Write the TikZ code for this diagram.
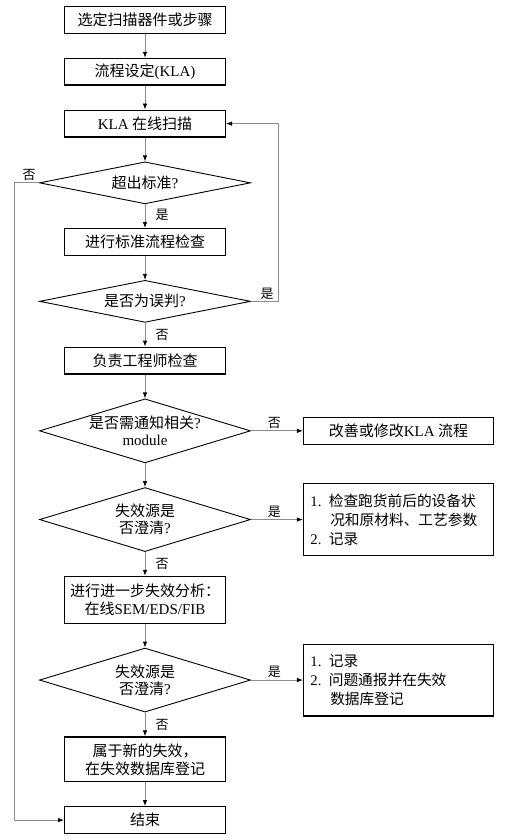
\documentclass[tikz,border=0pt]{standalone}
\usepackage{fontspec}
\setmainfont{Liberation Serif}
\newfontfamily\cjk{Noto Sans CJK SC}
\usepackage{tikz}
\usetikzlibrary{arrows.meta,positioning,shapes.geometric,calc}
\tikzset{
  fc/box/.style={draw, line width=1.3pt, minimum width=160.7pt, minimum height=26.7pt, align=center, inner sep=3pt,
    font=\cjk\fontsize{15}{18}\selectfont},
  fc/tallbox/.style={fc/box, minimum height=46.7pt},
  fc/decision/.style={draw, diamond, aspect=4.9, line width=0.9pt, inner sep=0pt, minimum width=211pt, minimum height=42pt, align=center,
    font=\cjk\fontsize{15}{17}\selectfont},
  fc/bigdecision/.style={fc/decision, aspect=3.3, minimum height=64pt},
  fc/side/.style={fc/box, minimum width=189.7pt},
  fc/sidelist/.style={fc/side, align=left, text width=176pt, inner xsep=6pt, minimum height=71.7pt,
    font=\cjk\fontsize{14.7}{19}\selectfont},
  fc/lbl/.style={font=\cjk\fontsize{13}{15}\selectfont, inner sep=1pt},
  arr/.style={draw=black!45, line width=0.8pt, -{Latex[length=6pt,width=4.5pt,color=black]}}
}
\newcommand{\en}[1]{{\rmfamily #1}}

\begin{document}
\begin{tikzpicture}[x=1pt, y=1pt, node distance=23.8pt and 52pt]
  \useasboundingbox (0,0) rectangle (510,-840);

  % main column
  \node[fc/box] (select) at (145,-20) {选定扫描器件或步骤};
  \node[fc/box, below=of select] (setup) {流程设定\en{(KLA)}};
  \node[fc/box, below=of setup] (scan) {\en{KLA} 在线扫描};
  \node[fc/decision, below=of scan] (exceed) {超出标准\en{?}};
  \node[fc/box, below=of exceed] (stdcheck) {进行标准流程检查};
  \node[fc/decision, below=of stdcheck] (misjudge) {是否为误判\en{?}};
  \node[fc/box, below=of misjudge] (engcheck) {负责工程师检查};
  \node[fc/bigdecision, below=of engcheck] (notify) {是否需通知相关\en{?}\\\en{module}};
  \node[fc/bigdecision, below=of notify] (clear1) {失效源是\\否澄清\en{?}};
  \node[fc/tallbox, below=of clear1] (analysis) {进行进一步失效分析：\\在线\en{SEM/EDS/FIB}};
  \node[fc/bigdecision, below=of analysis] (clear2) {失效源是\\否澄清\en{?}};
  \node[fc/tallbox, minimum height=44.7pt, below=of clear2] (newfail) {属于新的失效，\\在失效数据库登记};
  \node[fc/box, below=of newfail] (finish) {结束};

  % side boxes
  \node[fc/side, right=of notify] (improve) {改善或修改\en{KLA} 流程};
  \node[fc/sidelist, right=of clear1] (checkeq) {\en{1.} 检查跑货前后的设备状\\\hspace*{1.35em}况和原材料、工艺参数\\\en{2.} 记录};
  \node[fc/sidelist, right=of clear2] (record) {\en{1.} 记录\\\en{2.} 问题通报并在失效\\\hspace*{1.35em}数据库登记};

  \coordinate (lft) at (14,0);
  \coordinate (rgt) at (278,0);

  % connectors
  \draw[arr] (select) -- (setup);
  \draw[arr] (setup) -- (scan);
  \draw[arr] (scan) -- (exceed);
  \draw[arr] (exceed) -- (stdcheck);
  \draw[arr] (stdcheck) -- (misjudge);
  \draw[arr] (misjudge) -- (engcheck);
  \draw[arr] (engcheck) -- (notify);
  \draw[arr] (notify) -- (clear1);
  \draw[arr] (clear1) -- (analysis);
  \draw[arr] (analysis) -- (clear2);
  \draw[arr] (clear2) -- (newfail);
  \draw[arr] (newfail) -- (finish);
  \draw[arr] (notify.east) -- (improve.west);
  \draw[arr] (clear1.east) -- (checkeq.west);
  \draw[arr] (clear2.east) -- (record.west);
  \draw[arr] (exceed.west) -- (exceed.west -| lft) |- (finish.west);
  \draw[arr] (misjudge.east) -- (misjudge.east -| rgt) |- (scan.east);

  % branch labels
  \node[fc/lbl, above=1pt] (noA) at ($(exceed.west)!0.4!(exceed.west -| lft)$) {否};
  \node[fc/lbl] (yesA) at ($(exceed.south)+(17,-11)$) {是};
  \node[fc/lbl, above=1pt] (yesB) at ($(misjudge.east)!0.6!(misjudge.east -| rgt)$) {是};
  \node[fc/lbl] (noB) at ($(misjudge.south)+(17,-12)$) {否};
  \node[fc/lbl, above=1pt] (noC) at ($(notify.east)!0.45!(improve.west)$) {否};
  \node[fc/lbl, above=1pt] (yesC) at ($(clear1.east)!0.45!(checkeq.west)$) {是};
  \node[fc/lbl] (noD) at ($(clear1.south)+(17,-12)$) {否};
  \node[fc/lbl, above=1pt] (yesD) at ($(clear2.east)!0.45!(record.west)$) {是};
  \node[fc/lbl] (noE) at ($(clear2.south)+(17,-12)$) {否};
\end{tikzpicture}
\end{document}
